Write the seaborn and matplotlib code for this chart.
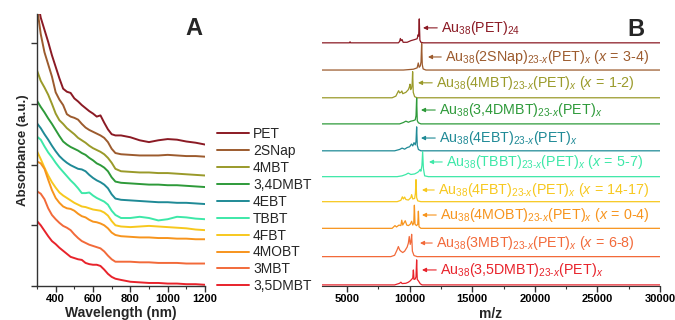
import matplotlib
matplotlib.use('Agg')
import matplotlib.pyplot as plt
from matplotlib.ticker import MultipleLocator, NullFormatter
import numpy as np
import pandas as pd
import seaborn as sns

sns.set_style('ticks')
plt.rcParams['font.family'] = ['Liberation Sans', 'DejaVu Sans']
plt.rcParams['mathtext.fontset'] = 'custom'
plt.rcParams['mathtext.rm'] = 'Liberation Sans'
plt.rcParams['mathtext.it'] = 'Liberation Sans:italic'
plt.rcParams['mathtext.bf'] = 'Liberation Sans:bold'

ligands = ['PET', '2SNap', '4MBT', '3,4DMBT', '4EBT', 'TBBT', '4FBT', '4MOBT', '3MBT', '3,5DMBT']
colors = ['#8b1a24', '#9c5b2e', '#9a9a2a', '#2e9a3a', '#1f8a96',
          '#3de8a8', '#f7c81e', '#f7941d', '#f26a3a', '#e8232b']

# ---- panel A: UV-vis absorbance (stacked, a.u.) ----
wavelength = [300, 320, 340, 360, 380, 400, 420, 440, 460, 480, 500, 520, 540, 560, 580, 600,
              620, 640, 660, 680, 700, 720, 750, 800, 850, 900, 950, 1000, 1050, 1100, 1150, 1200]
abs_pet = [4.75, 4.42, 4.22, 4.02, 3.80, 3.61, 3.42, 3.25, 3.20, 3.18, 3.09, 3.04, 2.98, 2.93, 2.88, 2.84,
           2.79, 2.81, 2.69, 2.58, 2.50, 2.48, 2.48, 2.45, 2.40, 2.37, 2.40, 2.42, 2.41, 2.38, 2.36, 2.33]
abs_2snap = [4.60, 4.15, 3.85, 3.65, 3.45, 3.19, 3.07, 2.98, 2.83, 2.79, 2.77, 2.74, 2.67, 2.61, 2.57, 2.54,
             2.51, 2.48, 2.44, 2.37, 2.26, 2.19, 2.17, 2.16, 2.15, 2.15, 2.15, 2.16, 2.15, 2.14, 2.14, 2.13]
abs_4mbt = [3.55, 3.38, 3.27, 3.15, 3.00, 2.84, 2.73, 2.67, 2.60, 2.55, 2.50, 2.44, 2.40, 2.36, 2.31, 2.27,
            2.24, 2.21, 2.17, 2.11, 2.03, 1.93, 1.89, 1.88, 1.87, 1.87, 1.86, 1.86, 1.85, 1.84, 1.83, 1.82]
abs_34dmbt = [3.05, 2.95, 2.86, 2.76, 2.67, 2.57, 2.47, 2.38, 2.33, 2.29, 2.26, 2.23, 2.19, 2.16, 2.11, 2.07,
              2.02, 1.99, 1.95, 1.89, 1.79, 1.72, 1.70, 1.69, 1.68, 1.67, 1.67, 1.66, 1.66, 1.65, 1.64, 1.63]
abs_4ebt = [2.68, 2.60, 2.50, 2.41, 2.31, 2.22, 2.14, 2.08, 2.03, 1.99, 1.96, 1.93, 1.92, 1.89, 1.83, 1.78,
            1.74, 1.71, 1.67, 1.61, 1.51, 1.44, 1.42, 1.41, 1.40, 1.39, 1.38, 1.38, 1.37, 1.37, 1.36, 1.35]
abs_tbbt = [2.46, 2.41, 2.30, 2.20, 2.12, 2.03, 1.95, 1.88, 1.81, 1.74, 1.68, 1.61, 1.53, 1.53, 1.54, 1.49,
            1.45, 1.42, 1.39, 1.34, 1.24, 1.17, 1.12, 1.12, 1.14, 1.12, 1.08, 1.10, 1.14, 1.13, 1.11, 1.10]
abs_4fbt = [2.22, 2.09, 1.95, 1.82, 1.71, 1.62, 1.54, 1.49, 1.45, 1.41, 1.37, 1.34, 1.31, 1.30, 1.28, 1.26,
            1.25, 1.24, 1.21, 1.16, 1.07, 1.00, 0.98, 0.97, 0.98, 0.99, 0.98, 0.97, 0.96, 0.95, 0.93, 0.92]
abs_4mobt = [2.05, 2.02, 1.93, 1.75, 1.58, 1.45, 1.37, 1.31, 1.28, 1.27, 1.24, 1.19, 1.15, 1.13, 1.09, 1.06,
             1.05, 1.03, 1.00, 0.95, 0.88, 0.84, 0.82, 0.81, 0.80, 0.80, 0.79, 0.79, 0.78, 0.78, 0.77, 0.77]
abs_3mbt = [1.56, 1.52, 1.43, 1.28, 1.17, 1.10, 1.04, 0.99, 0.96, 0.92, 0.85, 0.79, 0.74, 0.71, 0.68, 0.66,
            0.64, 0.62, 0.57, 0.50, 0.44, 0.40, 0.40, 0.40, 0.39, 0.39, 0.38, 0.38, 0.38, 0.37, 0.37, 0.37]
abs_35dmbt = [1.07, 1.00, 0.91, 0.82, 0.74, 0.69, 0.63, 0.58, 0.53, 0.48, 0.46, 0.44, 0.43, 0.38, 0.36, 0.35,
              0.35, 0.33, 0.27, 0.20, 0.15, 0.12, 0.10, 0.07, 0.06, 0.05, 0.05, 0.04, 0.04, 0.03, 0.03, 0.02]
abs_series = [abs_pet, abs_2snap, abs_4mbt, abs_34dmbt, abs_4ebt,
              abs_tbbt, abs_4fbt, abs_4mobt, abs_3mbt, abs_35dmbt]

# ---- panel B: MALDI mass spectra (normalised intensity) ----
mz_pet = [3000, 5200, 5240, 5280, 9100, 9200, 9260, 9320, 9400, 9480, 9800, 10100, 10400, 10600, 10680,
          10720, 10770, 10820, 10900, 11100, 30000]
int_pet = [0, 0, 0.04, 0, 0, 0.05, 0.16, 0.08, 0.12, 0.02, 0.02, 0.08, 0.12, 0.15, 0.3,
           0.25, 0.88, 0.1, 0.02, 0, 0]
mz_2snap = [3000, 9500, 10300, 10600, 10690, 10760, 10850, 10910, 10960, 11010, 11080, 11300, 30000]
int_2snap = [0, 0, 0.03, 0.08, 0.26, 0.1, 0.15, 0.3, 0.98, 0.2, 0.04, 0, 0]
mz_4mbt = [3000, 8600, 8900, 9050, 9120, 9200, 9300, 9380, 9450, 9700, 9900, 9980, 10030, 10080, 10150,
           10200, 10240, 10290, 10400, 10600, 30000]
int_4mbt = [0, 0, 0.06, 0.2, 0.26, 0.18, 0.2, 0.25, 0.15, 0.2, 0.3, 0.4, 0.5, 0.3, 0.35,
            0.5, 0.96, 0.2, 0.04, 0, 0]
mz_34dmbt = [3000, 9200, 9500, 9700, 9900, 10100, 10300, 10450, 10510, 10560, 10610, 10700, 10900, 30000]
int_34dmbt = [0, 0, 0.05, 0.1, 0.06, 0.1, 0.12, 0.15, 0.3, 0.95, 0.12, 0.04, 0, 0]
mz_4ebt = [3000, 8800, 9200, 9400, 9600, 9800, 10000, 10150, 10250, 10350, 10450, 10510, 10560, 10610,
           10700, 10900, 30000]
int_4ebt = [0, 0, 0.05, 0.1, 0.06, 0.12, 0.15, 0.25, 0.18, 0.3, 0.22, 0.35, 0.88, 0.2, 0.05, 0, 0]
mz_tbbt = [3000, 9000, 9400, 9700, 9890, 10100, 10400, 10650, 10780, 10830, 10900, 10980, 11040, 11100,
           11200, 11500, 30000]
int_tbbt = [0, 0, 0.03, 0.08, 0.13, 0.08, 0.1, 0.16, 0.22, 0.26, 0.2, 0.4, 0.92, 0.3, 0.03, 0, 0]
mz_4fbt = [3000, 9000, 9300, 9420, 9500, 9600, 9700, 9900, 10100, 10160, 10250, 10400, 10460, 10510,
           10560, 10650, 10900, 30000]
int_4fbt = [0, 0, 0.05, 0.18, 0.1, 0.17, 0.08, 0.06, 0.15, 0.26, 0.1, 0.12, 0.3, 0.81, 0.15, 0.03, 0, 0]
mz_4mobt = [3000, 8600, 8830, 8950, 9150, 9300, 9370, 9450, 9550, 9650, 9770, 9900, 10050, 10160, 10250,
            10330, 10380, 10430, 10550, 10650, 10700, 10750, 10900, 30000]
int_4mobt = [0, 0, 0.1, 0.05, 0.12, 0.1, 0.3, 0.12, 0.2, 0.28, 0.12, 0.1, 0.15, 0.26, 0.12,
             0.2, 0.85, 0.15, 0.1, 0.15, 0.63, 0.06, 0, 0]
mz_3mbt = [3000, 8500, 8800, 9000, 9100, 9200, 9300, 9450, 9600, 9800, 9900, 9970, 10050, 10120, 10160,
           10220, 10350, 10600, 30000]
int_3mbt = [0, 0, 0.05, 0.25, 0.37, 0.25, 0.2, 0.15, 0.2, 0.35, 0.5, 0.74, 0.45, 0.6, 0.82,
            0.2, 0.04, 0, 0]
mz_35dmbt = [3000, 8800, 9200, 9300, 9400, 9700, 9900, 10050, 10150, 10250, 10300, 10350, 10450, 10510,
             10560, 10610, 10700, 10850, 11000, 30000]
int_35dmbt = [0, 0, 0.06, 0.1, 0.05, 0.06, 0.1, 0.15, 0.2, 0.25, 0.55, 0.2, 0.22, 0.3,
              0.92, 0.2, 0.15, 0.04, 0, 0]
mz_series = [mz_pet, mz_2snap, mz_4mbt, mz_34dmbt, mz_4ebt, mz_tbbt, mz_4fbt, mz_4mobt, mz_3mbt, mz_35dmbt]
int_series = [int_pet, int_2snap, int_4mbt, int_34dmbt, int_4ebt,
              int_tbbt, int_4fbt, int_4mobt, int_3mbt, int_35dmbt]

H = '\u2010'  # real hyphen, mathtext turns '-' into a minus
X = r'\mathit{x}'
SUB = r'_{23' + H + X + r'}(PET)_{' + X + r'}'
RNG = r'\ (' + X + r'\,=\,'
ms_labels = [
    r'$\mathrm{Au_{38}(PET)_{24}}$',
    r'$\mathrm{Au_{38}(2SNap)' + SUB + RNG + '3' + H + r'4)}$',
    r'$\mathrm{Au_{38}(4MBT)' + SUB + RNG + '1' + H + r'2)}$',
    r'$\mathrm{Au_{38}(3{,}4DMBT)' + SUB + r'}$',
    r'$\mathrm{Au_{38}(4EBT)' + SUB + r'}$',
    r'$\mathrm{Au_{38}(TBBT)' + SUB + RNG + '5' + H + r'7)}$',
    r'$\mathrm{Au_{38}(4FBT)' + SUB + RNG + '14' + H + r'17)}$',
    r'$\mathrm{Au_{38}(4MOBT)' + SUB + RNG + '0' + H + r'4)}$',
    r'$\mathrm{Au_{38}(3MBT)' + SUB + RNG + '6' + H + r'8)}$',
    r'$\mathrm{Au_{38}(3{,}5DMBT)' + SUB + r'}$',
]

# layout of the stacked spectra and their labels
offsets_b = [8.9, 7.9, 6.88, 5.92, 4.93, 3.98, 3.06, 2.08, 1.04, 0.0]
label_y = [9.45, 8.38, 7.43, 6.43, 5.40, 4.52, 3.49, 2.57, 1.54, 0.55]
label_x = [12505, 12824, 12105, 12345, 12345, 12904, 12265, 12425, 12105, 12425]
arrow_tip = [11067, 11466, 10668, 10907, 10907, 11546, 10987, 10987, 10827, 10987]

fig = plt.figure(figsize=(6.75, 3.2), dpi=100)
W, Hh = 675, 320
axA = fig.add_axes([37 / W, 34 / Hh, 168 / W, 272 / Hh])
axB = fig.add_axes([322 / W, 34 / Hh, 338 / W, 272 / Hh])

rows = []
for name, ys in zip(ligands, abs_series):
    for w, a in zip(wavelength, ys):
        rows.append((name, w, a))
dfA = pd.DataFrame(rows, columns=['ligand', 'wavelength', 'absorbance'])
sns.lineplot(data=dfA, x='wavelength', y='absorbance', hue='ligand', hue_order=ligands,
             palette=colors, lw=1.4, ax=axA, legend=False)
axA.set_xlim(300, 1200)
axA.set_ylim(0, 4.48)
axA.xaxis.set_major_locator(MultipleLocator(200))
axA.xaxis.set_minor_locator(MultipleLocator(100))
axA.yaxis.set_major_locator(MultipleLocator(1))
axA.yaxis.set_major_formatter(NullFormatter())
axA.tick_params(axis='both', which='major', direction='out', length=4, width=1, colors='#333333',
                labelsize=8, pad=2)
axA.tick_params(axis='x', which='minor', direction='out', length=2.5, width=0.8, colors='#333333')
for lab in axA.get_xticklabels():
    lab.set_fontweight('bold')
    lab.set_color('black')
for s in ['top', 'right']:
    axA.spines[s].set_visible(False)
for s in ['left', 'bottom']:
    axA.spines[s].set_color('#333333')
    axA.spines[s].set_linewidth(1)
axA.set_xlabel('Wavelength (nm)', fontsize=10, fontweight='bold', labelpad=1.5)
axA.set_ylabel('Absorbance (a.u.)', fontsize=9.5, fontweight='bold', labelpad=0)

axA.legend(axA.lines[:len(ligands)], ligands, loc='upper left',
           bbox_to_anchor=(217 / W, 1 - 127 / Hh), bbox_transform=fig.transFigure,
           frameon=False, fontsize=10, handlelength=2.3, handletextpad=0.3,
           labelspacing=0.21, borderaxespad=0, borderpad=0)

for i, name in enumerate(ligands):
    y = np.array(int_series[i]) + offsets_b[i]
    sns.lineplot(x=mz_series[i], y=y, color=colors[i], lw=0.9, ax=axB)
    axB.annotate('', xy=(arrow_tip[i], label_y[i]), xytext=(label_x[i] - 300, label_y[i]),
                 arrowprops=dict(arrowstyle='-|>', color=colors[i], lw=0.8, mutation_scale=6,
                                 shrinkA=0, shrinkB=0))
    axB.text(label_x[i], label_y[i], ms_labels[i], color=colors[i], fontsize=10.3,
             ha='left', va='center')
axB.set_xlim(3000, 30000)
axB.set_ylim(-0.04, 9.96)
axB.xaxis.set_major_locator(MultipleLocator(5000))
axB.xaxis.set_minor_locator(MultipleLocator(2500))
axB.set_yticks([])
axB.tick_params(axis='x', which='major', direction='out', length=4, width=1, colors='#333333',
                labelsize=8, pad=2)
axB.tick_params(axis='x', which='minor', direction='out', length=2.5, width=0.8, colors='#333333')
for lab in axB.get_xticklabels():
    lab.set_fontweight('bold')
    lab.set_color('black')
for s in ['top', 'right', 'left']:
    axB.spines[s].set_visible(False)
axB.spines['bottom'].set_color('#333333')
axB.set_xlabel('m/z', fontsize=10, fontweight='bold', labelpad=2)
axB.set_ylabel('')

fig.text(194 / W, 1 - 28.5 / Hh, 'A', fontsize=17, fontweight='bold', ha='center', va='center')
fig.text(636 / W, 1 - 29.5 / Hh, 'B', fontsize=17, fontweight='bold', ha='center', va='center')

fig.savefig('out.png', dpi=100)
